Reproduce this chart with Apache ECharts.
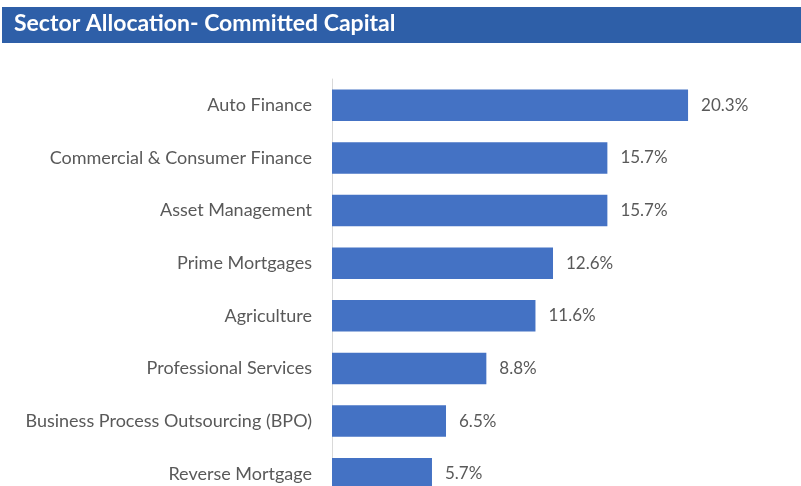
<!DOCTYPE html>
<html>
<head>
<meta charset="utf-8">
<script src="https://cdn.jsdelivr.net/npm/echarts@6/dist/echarts.min.js"></script>
<style>
  html, body { margin: 0; padding: 0; background: #ffffff; }
  #chart { width: 801px; height: 486px; }
</style>
</head>
<body>
<div id="chart"></div>
<script>
// Sector names, listed top to bottom
const sectors = [
  'Auto Finance',
  'Commercial & Consumer Finance',
  'Asset Management',
  'Prime Mortgages',
  'Agriculture',
  'Professional Services',
  'Business Process Outsourcing (BPO)',
  'Reverse Mortgage'
];
// Share of committed capital, in percent
const shares = [20.3, 15.7, 15.7, 12.6, 11.6, 8.8, 6.5, 5.7];
const titleText = 'Sector Allocation- Committed Capital';

const chart = echarts.init(document.getElementById('chart'), null, { renderer: 'canvas' });
chart.setOption({
  animation: false,
  backgroundColor: '#ffffff',
  graphic: [{
    type: 'rect',
    left: 2, top: 7,
    shape: { width: 799, height: 36 },
    style: { fill: '#2E5FA8' },
    z: 0
  }],
  title: {
    text: titleText,
    left: 14, top: 12,
    padding: 0,
    textStyle: {
      color: '#ffffff',
      fontFamily: 'Lato',
      fontWeight: 'bold',
      fontSize: 23
    }
  },
  grid: {
    left: 332, top: 79, right: 30.5, bottom: -14,
    containLabel: false,
    outerBoundsMode: 'none'
  },
  xAxis: {
    type: 'value',
    min: 0, max: 25,
    show: false
  },
  yAxis: {
    type: 'category',
    inverse: true,
    data: sectors,
    axisLine: { show: true, lineStyle: { color: '#d9d9d9', width: 1 } },
    axisTick: { show: false },
    axisLabel: {
      color: '#595959',
      fontFamily: 'Lato',
      fontSize: 18,
      margin: 20
    }
  },
  series: [{
    type: 'bar',
    data: shares,
    barWidth: '60%',
    itemStyle: { color: '#4472C4' },
    label: {
      show: true,
      position: 'right',
      distance: 13,
      color: '#595959',
      fontFamily: 'Lato',
      fontSize: 17,
      formatter: p => p.value.toFixed(1) + '%'
    }
  }]
});
</script>
</body>
</html>
